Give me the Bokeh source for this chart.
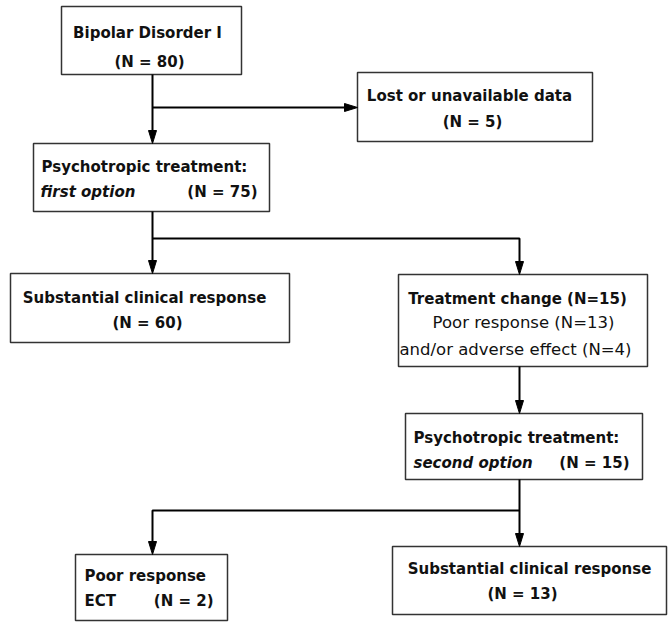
from bokeh.plotting import figure
from bokeh.models import Range1d
from bokeh.core.properties import value
from bokeh.embed import file_html
from bokeh.resources import INLINE

# ---- data ----
node_titles = ["Bipolar Disorder I", "Lost or unavailable data", "Psychotropic treatment:",
               "Substantial clinical response", "Treatment change", "Psychotropic treatment:",
               "Poor response", "Substantial clinical response"]
node_n = [80, 5, 75, 60, 15, 15, 2, 13]
option_labels = ["first option", "second option", "ECT"]
change_reasons = ["Poor response", "and/or adverse effect"]
change_reason_n = [13, 4]

# ---- layout (pixel coordinates of the picture) ----
boxes = [  # left, top, right, bottom
    (61, 6, 241, 74),
    (357, 72, 592, 141),
    (33, 143, 269, 211),
    (10, 273, 289, 342),
    (398, 274, 647, 366),
    (405, 413, 642, 479),
    (75, 554, 227, 620),
    (392, 546, 666, 614),
]

W_PX, H_PX = 668, 622
p = figure(width=W_PX, height=H_PX, x_range=Range1d(0, W_PX), y_range=Range1d(H_PX, 0),
           output_backend="svg", toolbar_location=None, min_border=0,
           x_axis_location=None, y_axis_location=None)
p.grid.visible = False
p.outline_line_color = None
p.background_fill_color = "white"
p.border_fill_color = "white"

# boxes
p.quad(left=[b[0] for b in boxes], right=[b[2] for b in boxes],
       top=[b[1] for b in boxes], bottom=[b[3] for b in boxes],
       fill_color="white", line_color="#333333", line_width=1.5)

# connectors: list of polylines; last point receives an arrowhead
xa = 152  # left trunk
xb = 519  # right trunk
paths = [
    ([xa, xa], [boxes[0][3], boxes[2][1]]),
    ([xa, boxes[1][0]], [107, 107]),
    ([xa, xa], [boxes[2][3], boxes[3][1]]),
    ([xa, xb, xb], [238, 238, boxes[4][1]]),
    ([xb, xb], [boxes[4][3], boxes[5][1]]),
    ([xb, xb], [boxes[5][3], boxes[7][1]]),
    ([xb, xa, xa], [510, 510, boxes[6][1]]),
]
L, W = 13, 4
line_xs, line_ys, hx, hy = [], [], [], []
for xs, ys in paths:
    xs = list(xs); ys = list(ys)
    x1, y1 = xs[-1], ys[-1]
    x0, y0 = xs[-2], ys[-2]
    if x0 == x1:  # vertical
        d = 1 if y1 > y0 else -1
        ys[-1] = y1 - d * (L - 2)
        hx.append([x1 - W, x1 + W, x1]); hy.append([y1 - d * L, y1 - d * L, y1])
    else:
        d = 1 if x1 > x0 else -1
        xs[-1] = x1 - d * (L - 2)
        hx.append([x1 - d * L, x1 - d * L, x1]); hy.append([y1 - W, y1 + W, y1])
    line_xs.append(xs); line_ys.append(ys)
p.multi_line(xs=line_xs, ys=line_ys, line_color="black", line_width=2)
p.patches(xs=hx, ys=hy, fill_color="black", line_color="black", line_width=1)

FONT = value("DejaVu Sans")
DY = -6  # baseline correction

def txt(x, y, s, style="bold", align="center", size="15px"):
    p.text(x=[x], y=[y + DY], text=[s], text_font=FONT, text_font_size=size,
           text_font_style=style, text_align=align, text_baseline="alphabetic",
           text_color="#111111")

def nlab(n):
    return f"(N = {n})"

# box 1
txt(147, 38, node_titles[0]); txt(149, 67, nlab(node_n[0]))
# box 2
txt(469, 101, node_titles[1]); txt(472, 127, nlab(node_n[1]))
# box 3
txt(41, 172, node_titles[2], align="left")
txt(40, 197, option_labels[0], style="bold italic", align="left")
txt(257, 197, nlab(node_n[2]), align="right")
# box 4
txt(144, 303, node_titles[3]); txt(147, 328, nlab(node_n[3]))
# box 5
txt(517, 304, f"{node_titles[4]} (N={node_n[4]})")
txt(523, 328, f"{change_reasons[0]} (N={change_reason_n[0]})", style="normal", size="16.5px")
txt(515, 355, f"{change_reasons[1]} (N={change_reason_n[1]})", style="normal", size="16.5px")
# box 6
txt(413, 443, node_titles[5], align="left")
txt(413, 468, option_labels[1], style="bold italic", align="left")
txt(629, 468, nlab(node_n[5]), align="right")
# box 7
txt(84, 581, node_titles[6], align="left")
txt(84, 606, option_labels[2], align="left")
txt(213, 606, nlab(node_n[6]), align="right")
# box 8
txt(529, 574, node_titles[7]); txt(522, 599, nlab(node_n[7]))

open("out.html", "w").write(file_html(p, INLINE))
